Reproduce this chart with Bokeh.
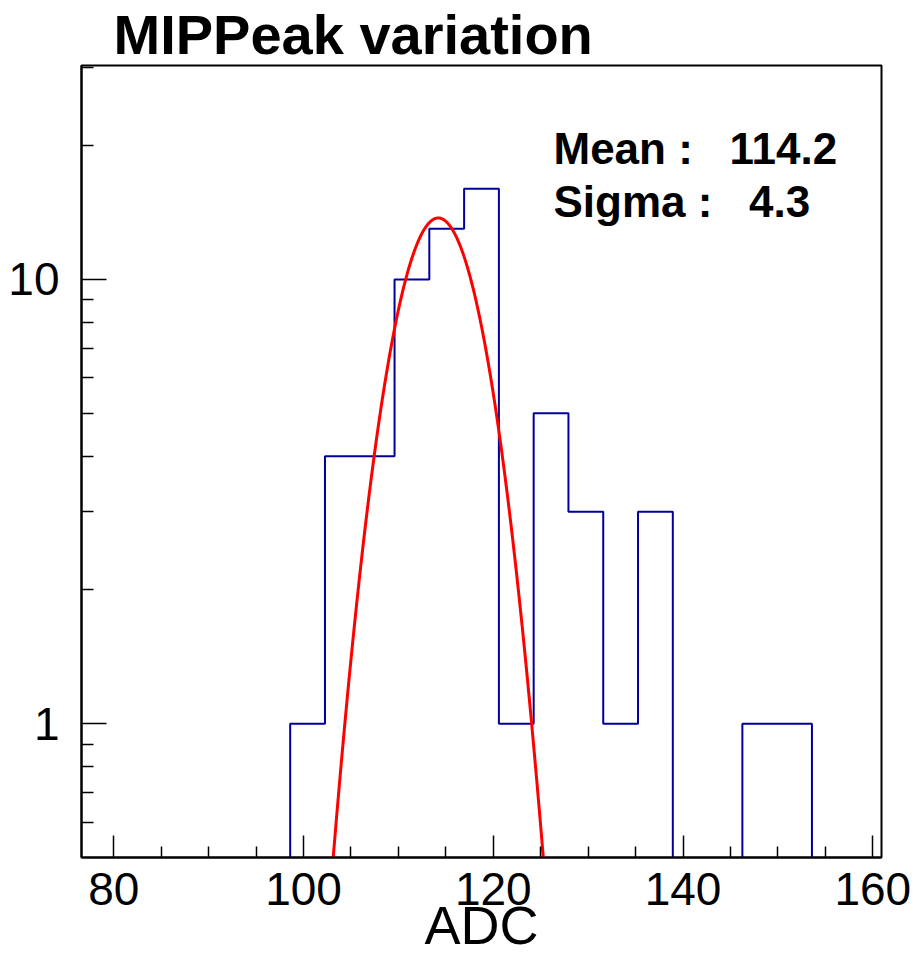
import numpy as np
from bokeh.plotting import figure
from bokeh.models import Label, FixedTicker, Range1d
from bokeh.embed import file_html
from bokeh.resources import INLINE

# ---- data ----
bin_low = 76.6
bin_width = 3.666
bin_counts = [0, 0, 0, 0, 0, 0, 1, 4, 4, 10, 13, 16, 1, 5, 3, 1, 3, 0, 0, 1, 1, 0, 0]

fit_amplitude = 13.75
fit_mean = 114.2
fit_sigma = 4.3

x_major_ticks = [80, 100, 120, 140, 160]
x_minor_ticks = [85, 90, 95, 105, 110, 115, 125, 130, 135, 145, 150, 155]
y_major_ticks = [1, 10]
y_minor_ticks = [0.6, 0.7, 0.8, 0.9, 2, 3, 4, 5, 6, 7, 8, 9, 20, 30]
y_min, y_max = 0.5, 30.3

title_text = "MIPPeak variation"
x_title = "ADC"
NB = "\u00a0"
stat_lines = [f"Mean{NB}:{NB*3}{fit_mean:.1f}", f"Sigma{NB}:{NB*3}{fit_sigma:.1f}"]

FONT = "Liberation Sans"

# ---- derived ----
n_bins = len(bin_counts)
edges = bin_low + bin_width * np.arange(n_bins + 1)
x_lo, x_hi = edges[0], edges[-1]

floor = y_min * 1e-3  # empty bins drawn below the visible range (clipped)
step_x, step_y = [], []
for i, c in enumerate(bin_counts):
    v = c if c > 0 else floor
    step_x += [edges[i], edges[i + 1]]
    step_y += [v, v]

fx = np.linspace(x_lo, x_hi, 600)
fy = fit_amplitude * np.exp(-0.5 * ((fx - fit_mean) / fit_sigma) ** 2)

p = figure(width=914, height=958, output_backend="svg", toolbar_location=None,
           x_range=Range1d(x_lo, x_hi), y_range=Range1d(y_min, y_max),
           y_axis_type="log",
           min_border_left=81, min_border_right=33, min_border_top=63,
           min_border_bottom=101)
p.background_fill_color = "white"
p.border_fill_color = "white"
p.outline_line_color = "black"
p.outline_line_width = 2
p.xgrid.visible = False
p.ygrid.visible = False

p.title.text = title_text
p.title.align = "left"
p.title.offset = 32
p.title.standoff = 0
p.title.text_font = FONT
p.title.text_font_size = "56px"
p.title.text_font_style = "bold"
p.title.text_line_height = 0.95
p.title.text_color = "black"

p.line(step_x, step_y, line_color="#000099", line_width=2)
p.line(fx, fy, line_color="#ff0000", line_width=3)

for ax in (p.xaxis[0], p.yaxis[0]):
    ax.axis_line_color = "black"
    ax.axis_line_width = 2
    ax.major_tick_line_color = "black"
    ax.minor_tick_line_color = "black"
    ax.major_tick_line_width = 1.5
    ax.minor_tick_line_width = 1.5
    ax.major_tick_out = 0
    ax.minor_tick_out = 0
    ax.major_label_text_font = FONT
    ax.major_label_text_font_size = "46px"
    ax.major_label_text_color = "black"

xa = p.xaxis[0]
xa.ticker = FixedTicker(ticks=x_major_ticks, minor_ticks=x_minor_ticks)
xa.major_tick_in = 22
xa.minor_tick_in = 11
xa.major_label_standoff = 15
xa.axis_label = x_title
xa.axis_label_text_font = FONT
xa.axis_label_text_font_size = "54px"
xa.axis_label_text_font_style = "normal"
xa.axis_label_text_color = "black"
xa.axis_label_standoff = -13

ya = p.yaxis[0]
ya.ticker = FixedTicker(ticks=y_major_ticks, minor_ticks=y_minor_ticks)
ya.major_tick_in = 25
ya.minor_tick_in = 12
ya.major_label_standoff = 22
ya.major_label_overrides = {1: "1", 10: "10"}

for txt, ypos in zip(stat_lines, [709, 656]):
    p.add_layout(Label(x=472, y=ypos, x_units="screen", y_units="screen", text=txt,
                       text_font=FONT, text_font_size="44px",
                       text_font_style="bold", text_color="black",
                       text_baseline="alphabetic"))

open("out.html", "w").write(file_html(p, INLINE))
